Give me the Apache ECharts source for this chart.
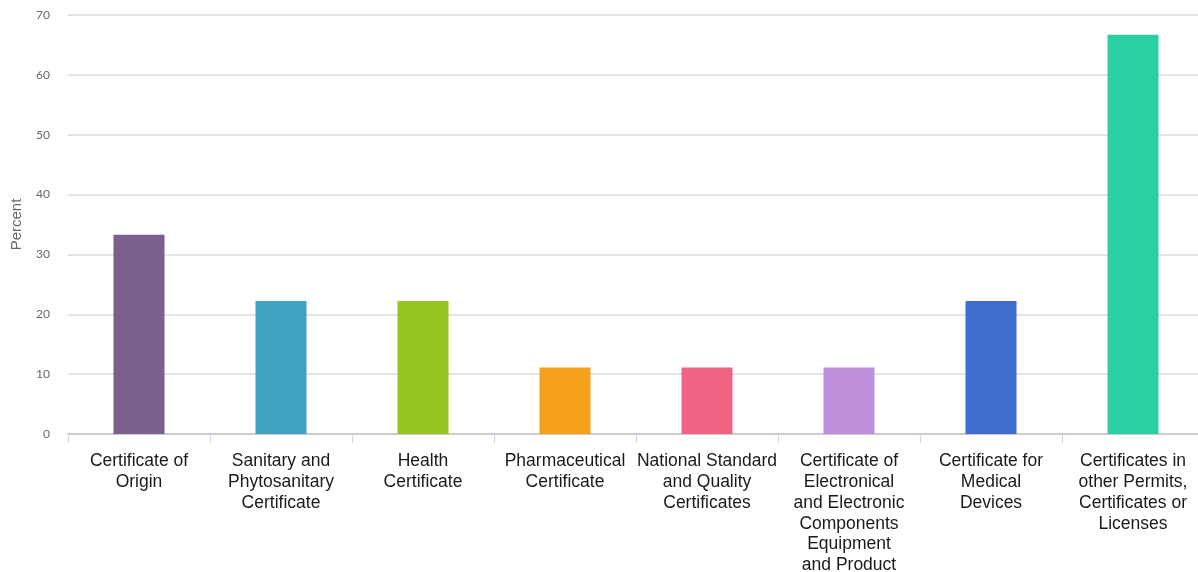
<!DOCTYPE html>
<html>
<head>
<meta charset="utf-8">
<script src="https://cdn.jsdelivr.net/npm/echarts@6/dist/echarts.min.js"></script>
<style>
  html, body { margin: 0; padding: 0; background: #fff; overflow: hidden; }
  #chart { width: 1198px; height: 572px; }
</style>
</head>
<body>
<div id="chart"></div>
<script>
const categories = [
  'Certificate of\nOrigin',
  'Sanitary and\nPhytosanitary\nCertificate',
  'Health\nCertificate',
  'Pharmaceutical\nCertificate',
  'National Standard\nand Quality\nCertificates',
  'Certificate of\nElectronical\nand Electronic\nComponents\nEquipment\nand Product',
  'Certificate for\nMedical\nDevices',
  'Certificates in\nother Permits,\nCertificates or\nLicenses'
]
const values = [33.3, 22.2, 22.2, 11.1, 11.1, 11.1, 22.2, 66.7]
const barColors = ['#7b5f8e', '#41a2c2', '#95c623', '#f5a01a', '#f06385', '#be90dc', '#3e6ccf', '#2acfa2']
const yTicks = { min: 0, max: 70, interval: 10 }

const chart = echarts.init(document.getElementById('chart'))

chart.setOption({
  animation: false,
  backgroundColor: '#fff',
  // plot runs slightly past the right edge, as in the reference
  grid: { left: 68, width: 1136, top: 15, bottom: 138, outerBoundsMode: 'none', containLabel: false },
  xAxis: {
    type: 'category',
    data: categories,
    axisLine: { lineStyle: { color: '#cccccc', width: 2 } },
    axisTick: { show: true, length: 9, lineStyle: { color: '#ccd6eb' } },
    axisLabel: {
      interval: 0,
      margin: 17,
      color: '#1a1a1a',
      fontSize: 17.5,
      lineHeight: 20.8,
      fontFamily: 'Liberation Sans, Arial, sans-serif'
    }
  },
  yAxis: {
    type: 'value',
    min: yTicks.min,
    max: yTicks.max,
    interval: yTicks.interval,
    name: 'Percent',
    nameLocation: 'middle',
    nameGap: 44,
    nameTextStyle: { color: '#666', fontSize: 15, fontFamily: 'Liberation Sans, Arial, sans-serif' },
    axisLine: { show: false },
    axisTick: { show: false },
    axisLabel: { color: '#666', fontSize: 12, margin: 18, fontFamily: 'Lato, sans-serif' },
    splitLine: { lineStyle: { color: '#dcdcdc', width: 1.5 } }
  },
  series: [{
    type: 'bar',
    barWidth: 51,
    data: values.map((v, i) => ({ value: v, itemStyle: { color: barColors[i] } }))
  }]
})
</script>
</body>
</html>
